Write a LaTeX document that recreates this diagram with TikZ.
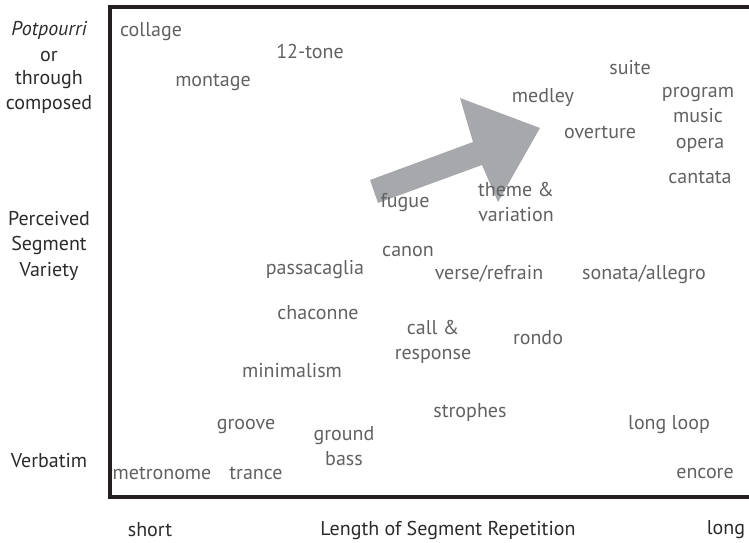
\documentclass[tikz,border=0pt]{standalone}
\usepackage{fontspec}
\setmainfont{PT Sans}
\begin{document}
\begin{tikzpicture}[x=1pt,y=-1pt,
  lab/.style={text=labgray, font=\fontsize{20}{25}\selectfont, inner sep=0pt, align=center},
  axl/.style={text=axdark, font=\fontsize{20}{25}\selectfont, inner sep=0pt, align=center}]
\definecolor{labgray}{HTML}{606163}
\definecolor{axdark}{HTML}{2B2B2B}
\definecolor{arrowgray}{HTML}{A7A8AB}
\definecolor{framec}{HTML}{231F20}
\useasboundingbox (0,0) rectangle (749,543);
% arrow
\fill[arrowgray] (370,180) -- (473,142) -- (460,98) -- (540,128) -- (498,202) -- (482,165) -- (378,203) -- cycle;
% frame
\draw[framec, line width=4pt] (760,7) -- (110,7) -- (110,497) -- (760,497);
% axis labels
\node[axl] (pot) at (49,30) {\itshape Potpourri};
\node[axl] (or) at (49,56) {or};
\node[axl] (thr) at (49,80) {through};
\node[axl] (comp) at (49,104) {composed};
\node[axl] (perc) at (49,219) {Perceived};
\node[axl] (seg) at (49,245) {Segment};
\node[axl] (var) at (49,271) {Variety};
\node[axl] (verb) at (49,461) {Verbatim};
\node[axl] (short) at (150,530) {short};
\node[axl] (len) at (448,530) {Length of Segment Repetition};
\node[axl] (long) at (726,530) {long};
% items
\node[lab] (collage) at (151,32) {collage};
\node[lab] (tone) at (310,52) {12-tone};
\node[lab] (montage) at (213,82) {montage};
\node[lab] (medley) at (543,98) {medley};
\node[lab] (suite) at (630,68) {suite};
\node[lab] (program) at (698,105) {program\\music};
\node[lab] (overture) at (600,132) {overture};
\node[lab] (opera) at (700,145) {opera};
\node[lab] (cantata) at (700,177) {cantata};
\node[lab] (theme) at (516,202) {theme \&\\variation};
\node[lab] (fugue) at (405,203) {fugue};
\node[lab] (canon) at (408,251) {canon};
\node[lab] (passa) at (315,270) {passacaglia};
\node[lab] (verse) at (489,274) {verse/refrain};
\node[lab] (sonata) at (644,274) {sonata/allegro};
\node[lab] (chac) at (318,313) {chaconne};
\node[lab] (call) at (433,342) {call \&\\response};
\node[lab] (rondo) at (538,338) {rondo};
\node[lab] (minim) at (292,371) {minimalism};
\node[lab] (stro) at (470,412) {strophes};
\node[lab] (groove) at (246,426) {groove};
\node[lab] (ground) at (344,446) {ground\\bass};
\node[lab] (longloop) at (669,425) {long loop};
\node[lab] (metro) at (162,473) {metronome};
\node[lab] (trance) at (256,473) {trance};
\node[lab] (encore) at (705,473) {encore};
\end{tikzpicture}
\end{document}
